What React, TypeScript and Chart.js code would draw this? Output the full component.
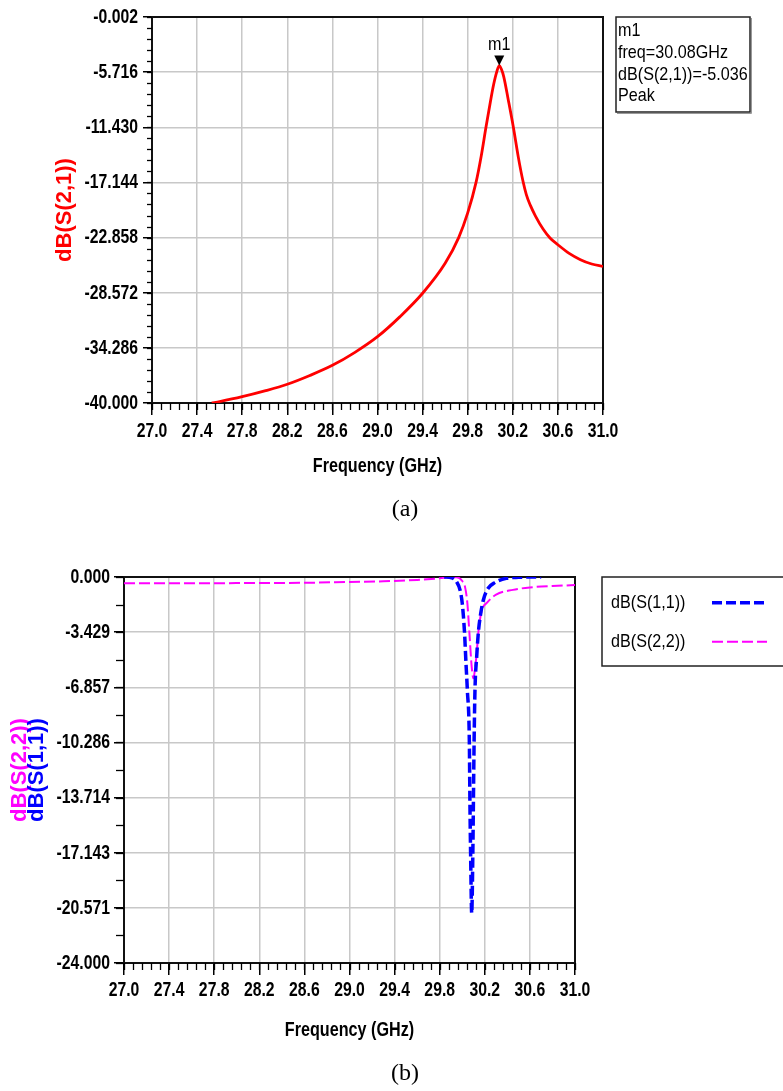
import React, { useEffect, useRef } from "react";
import { Chart, registerables } from "chart.js";

Chart.register(...registerables);

// ---------- data ----------
const freqTicks = [27.0, 27.4, 27.8, 28.2, 28.6, 29.0, 29.4, 29.8, 30.2, 30.6, 31.0];
const s21YTicks = [-40.0, -34.286, -28.572, -22.858, -17.144, -11.43, -5.716, -0.002];
const sParamYTicks = [-24.0, -20.571, -17.143, -13.714, -10.286, -6.857, -3.429, 0.0];

const s21Freq = [27.53, 27.6, 27.8, 28.0, 28.2, 28.4, 28.6, 28.8, 29.0, 29.2, 29.4, 29.6, 29.72, 29.8, 29.874, 29.92, 29.962, 30.004, 30.03, 30.057, 30.08, 30.1, 30.12, 30.16, 30.205, 30.25, 30.29, 30.32, 30.355, 30.4, 30.47, 30.53, 30.6, 30.7, 30.8, 30.9, 31.0];
const s21dB = [-40.0, -39.85, -39.35, -38.75, -38.06, -37.15, -36.1, -34.75, -33.13, -31.05, -28.63, -25.52, -22.86, -20.3, -17.14, -14.4, -11.43, -8.6, -7.0, -5.716, -5.036, -5.45, -6.2, -8.6, -11.43, -14.6, -17.0, -18.4, -19.5, -20.6, -22.0, -22.9, -23.6, -24.5, -25.15, -25.6, -25.85];

const s11Freq = [29.84, 29.906, 29.95, 29.98, 30.0, 30.02, 30.033, 30.045, 30.063, 30.068, 30.074, 30.084, 30.094, 30.099, 30.105, 30.113, 30.128, 30.143, 30.164, 30.187, 30.23, 30.29, 30.39, 30.5, 30.7];
const s11dB = [0.0, -0.05, -0.3, -0.8, -1.64, -3.43, -5.35, -7.0, -10.29, -14.0, -17.14, -20.9, -17.14, -14.0, -10.29, -7.0, -4.96, -3.43, -2.26, -1.43, -0.7, -0.35, -0.08, -0.02, 0.0];

const s22Freq = [27.0, 27.5, 28.0, 28.6, 29.0, 29.3, 29.6, 29.8, 29.9, 29.95, 30.0, 30.024, 30.045, 30.063, 30.084, 30.1, 30.115, 30.128, 30.143, 30.17, 30.22, 30.3, 30.45, 30.6, 30.8, 31.0];
const s22dB = [-0.39, -0.39, -0.38, -0.36, -0.31, -0.27, -0.18, -0.08, -0.02, -0.02, -0.25, -0.6, -1.6, -3.43, -5.6, -6.3, -5.6, -4.75, -3.43, -2.16, -1.6, -1.1, -0.8, -0.65, -0.56, -0.5];

const markerFreq = 30.08;
const markerDb = -5.036;
const markerLines = ["m1", "freq=30.08GHz", "dB(S(2,1))=-5.036", "Peak"];
const legendLabels = ["dB(S(1,1))", "dB(S(2,2))"];

// ---------- styles ----------
const SANS = "'Liberation Sans', Arial, sans-serif";
const SERIF = "'Liberation Serif', 'Times New Roman', serif";

const W = 783;
const HA = 545;
const HB = 546;

function toPoints(xs: number[], ys: number[]) {
  return xs.map((x, i) => ({ x, y: ys[i] }));
}

// draw horizontally condensed text (narrow-face look)
function narrowText(
  ctx: CanvasRenderingContext2D,
  text: string,
  x: number,
  y: number,
  font: string,
  sx: number,
  align: CanvasTextAlign,
  color = "#000"
) {
  ctx.save();
  ctx.font = font;
  ctx.fillStyle = color;
  ctx.textAlign = align;
  ctx.textBaseline = "middle";
  ctx.translate(x, y);
  ctx.scale(sx, 1);
  ctx.fillText(text, 0, 0);
  ctx.restore();
}

function framePlugin() {
  return {
    id: "frame",
    beforeDatasetsDraw(chart: any) {
      const { ctx, chartArea } = chart;
      ctx.save();
      ctx.strokeStyle = "#111";
      ctx.lineWidth = 2;
      ctx.strokeRect(chartArea.left, chartArea.top, chartArea.right - chartArea.left, chartArea.bottom - chartArea.top);
      ctx.restore();
    },
  };
}

function minorTicksPlugin(xDiv: number, yDiv: number, xLen: number, yLen: number) {
  return {
    id: "minorTicks",
    afterDraw(chart: any) {
      const { ctx, chartArea } = chart;
      const xs = chart.scales.x;
      const ys = chart.scales.y;
      ctx.save();
      ctx.strokeStyle = "#000";
      ctx.lineWidth = 1.3;
      for (let i = 0; i <= xDiv; i++) {
        const v = xs.min + ((xs.max - xs.min) * i) / xDiv;
        const px = Math.round(xs.getPixelForValue(v)) + 0.5;
        ctx.beginPath();
        ctx.moveTo(px, chartArea.bottom);
        ctx.lineTo(px, chartArea.bottom + xLen);
        ctx.stroke();
      }
      for (let i = 0; i <= yDiv; i++) {
        const v = ys.min + ((ys.max - ys.min) * i) / yDiv;
        const py = Math.round(ys.getPixelForValue(v)) + 0.5;
        ctx.beginPath();
        ctx.moveTo(chartArea.left - yLen, py);
        ctx.lineTo(chartArea.left, py);
        ctx.stroke();
      }
      ctx.restore();
    },
  };
}

// tick labels drawn at the scales' own tick positions, in a condensed bold face
function tickLabelsPlugin(xLabelY: number, yLabelRight: number) {
  const font = `bold 21px ${SANS}`;
  return {
    id: "tickLabels",
    afterDraw(chart: any) {
      const { ctx } = chart;
      const xs = chart.scales.x;
      const ys = chart.scales.y;
      xs.ticks.forEach((t: any) => {
        narrowText(ctx, Number(t.value).toFixed(1), xs.getPixelForValue(t.value), xLabelY, font, 0.75, "center");
      });
      ys.ticks.forEach((t: any) => {
        narrowText(ctx, Number(t.value).toFixed(3), yLabelRight, ys.getPixelForValue(t.value), font, 0.75, "right");
      });
    },
  };
}

function rotatedText(ctx: CanvasRenderingContext2D, text: string, x: number, y: number, color: string) {
  ctx.save();
  ctx.font = `bold 22px ${SANS}`;
  ctx.translate(x, y);
  ctx.rotate(-Math.PI / 2);
  ctx.fillStyle = color;
  ctx.textAlign = "center";
  ctx.textBaseline = "middle";
  ctx.fillText(text, 0, 0);
  ctx.restore();
}

const INFO_FONT = `19px ${SANS}`;
const INFO_SX = 0.85;

function annotationsA() {
  return {
    id: "annotA",
    afterDraw(chart: any) {
      const { ctx, chartArea } = chart;
      const xs = chart.scales.x;
      const ys = chart.scales.y;
      narrowText(ctx, "Frequency (GHz)", (chartArea.left + chartArea.right) / 2, 466, `bold 21px ${SANS}`, 0.77, "center");
      rotatedText(ctx, "dB(S(2,1))", 65, (chartArea.top + chartArea.bottom) / 2, "#ff0000");
      // marker
      const px = xs.getPixelForValue(markerFreq);
      const py = ys.getPixelForValue(markerDb);
      ctx.save();
      ctx.fillStyle = "#000";
      ctx.beginPath();
      ctx.moveTo(px - 5, py - 10);
      ctx.lineTo(px + 5, py - 10);
      ctx.lineTo(px, py);
      ctx.closePath();
      ctx.fill();
      // marker box
      ctx.strokeStyle = "#222";
      ctx.lineWidth = 1.5;
      ctx.strokeRect(616, 17, 134, 95);
      ctx.strokeStyle = "#999";
      ctx.lineWidth = 1;
      ctx.beginPath();
      ctx.moveTo(617, 113.5);
      ctx.lineTo(751.5, 113.5);
      ctx.lineTo(751.5, 18);
      ctx.stroke();
      ctx.restore();
      narrowText(ctx, markerLines[0], px, py - 21, INFO_FONT, INFO_SX, "center");
      const lineY = [31, 53, 74.5, 96];
      markerLines.forEach((t, i) => narrowText(ctx, t, 618, lineY[i], INFO_FONT, INFO_SX, "left"));
    },
  };
}

function annotationsB() {
  return {
    id: "annotB",
    afterDraw(chart: any) {
      const { ctx, chartArea } = chart;
      narrowText(ctx, "Frequency (GHz)", (chartArea.left + chartArea.right) / 2, 485, `bold 21px ${SANS}`, 0.77, "center");
      const cy = (chartArea.top + chartArea.bottom) / 2;
      rotatedText(ctx, "dB(S(2,2))", 20, cy, "#ff00ff");
      rotatedText(ctx, "dB(S(1,1))", 37, cy, "#0000ff");
      // legend box
      ctx.save();
      ctx.strokeStyle = "#222";
      ctx.lineWidth = 1.5;
      ctx.strokeRect(602, 32, 200, 89);
      ctx.restore();
      const ds = chart.data.datasets;
      const rows = [57.7, 96.7];
      legendLabels.forEach((lab, i) => {
        narrowText(ctx, lab, 611, rows[i], INFO_FONT, INFO_SX, "left");
        const d = ds[i];
        ctx.save();
        ctx.strokeStyle = d.borderColor;
        ctx.lineWidth = d.borderWidth;
        ctx.setLineDash(d.borderDash);
        ctx.beginPath();
        ctx.moveTo(712, rows[i]);
        ctx.lineTo(767, rows[i]);
        ctx.stroke();
        ctx.restore();
      });
    },
  };
}

function scaleX(height: number) {
  return {
    type: "linear",
    min: freqTicks[0],
    max: freqTicks[freqTicks.length - 1],
    afterBuildTicks: (s: any) => {
      s.ticks = freqTicks.map((v) => ({ value: v }));
    },
    afterFit: (s: any) => {
      s.height = height;
    },
    ticks: { display: false, autoSkip: false, maxRotation: 0 },
    grid: { color: "#c8c8c8", lineWidth: 1.5, tickLength: 12, tickColor: "#000", tickWidth: 1.5 },
    border: { color: "#111", width: 2 },
  };
}

function scaleY(ticks: number[], width: number, tickLen: number) {
  return {
    type: "linear",
    min: ticks[0],
    max: ticks[ticks.length - 1],
    afterBuildTicks: (s: any) => {
      s.ticks = ticks.map((v) => ({ value: v }));
    },
    afterFit: (s: any) => {
      s.width = width;
    },
    ticks: { display: false, autoSkip: false },
    grid: { color: "#c8c8c8", lineWidth: 1.5, tickLength: tickLen, tickColor: "#000", tickWidth: 1.5 },
    border: { color: "#111", width: 2 },
  };
}

export default function App() {
  const refA = useRef<HTMLCanvasElement>(null);
  const refB = useRef<HTMLCanvasElement>(null);

  useEffect(() => {
    const chartA = new Chart(refA.current as HTMLCanvasElement, {
      type: "line",
      data: {
        datasets: [
          {
            data: toPoints(s21Freq, s21dB),
            borderColor: "#ff0000",
            borderWidth: 2.8,
            pointRadius: 0,
            cubicInterpolationMode: "monotone",
            fill: false,
          },
        ],
      },
      options: {
        animation: false,
        responsive: false,
        events: [],
        layout: { padding: { left: 0, top: 17, right: W - 603, bottom: 0 } },
        plugins: { legend: { display: false }, tooltip: { enabled: false } },
        scales: {
          x: scaleX(HA - 403),
          y: scaleY(s21YTicks, 152, 9),
        },
      } as any,
      plugins: [framePlugin(), minorTicksPlugin(50, 35, 7, 5), tickLabelsPlugin(431, 138), annotationsA()],
    } as any);

    const chartB = new Chart(refB.current as HTMLCanvasElement, {
      type: "line",
      data: {
        datasets: [
          {
            data: toPoints(s11Freq, s11dB),
            borderColor: "#0000ff",
            borderWidth: 3.5,
            borderDash: [10, 4],
            pointRadius: 0,
            cubicInterpolationMode: "monotone",
            fill: false,
          },
          {
            data: toPoints(s22Freq, s22dB),
            borderColor: "#ff00ff",
            borderWidth: 2,
            borderDash: [11, 4],
            pointRadius: 0,
            cubicInterpolationMode: "monotone",
            fill: false,
          },
        ],
      },
      options: {
        animation: false,
        responsive: false,
        events: [],
        layout: { padding: { left: 0, top: 577 - 545, right: W - 575, bottom: 0 } },
        plugins: { legend: { display: false }, tooltip: { enabled: false } },
        scales: {
          x: scaleX(HB - (963 - 545)),
          y: scaleY(sParamYTicks, 124, 10),
        },
      } as any,
      plugins: [framePlugin(), minorTicksPlugin(50, 14, 7, 8), tickLabelsPlugin(445.7, 110), annotationsB()],
    } as any);

    return () => {
      chartA.destroy();
      chartB.destroy();
    };
  }, []);

  const caption: React.CSSProperties = {
    position: "absolute",
    transform: "translate(-50%, -50%)",
    font: `24px ${SERIF}`,
    lineHeight: 1,
    color: "#000",
    whiteSpace: "nowrap",
  };

  return (
    <div style={{ position: "fixed", left: 0, top: 0, width: W, height: 1091, background: "#fff", overflow: "hidden" }}>
      <canvas ref={refA} width={W} height={HA} style={{ position: "absolute", left: 0, top: 0, width: W, height: HA }} />
      <canvas ref={refB} width={W} height={HB} style={{ position: "absolute", left: 0, top: 545, width: W, height: HB }} />
      <div style={{ ...caption, left: 405, top: 508 }}>(a)</div>
      <div style={{ ...caption, left: 405, top: 1072 }}>(b)</div>
    </div>
  );
}
